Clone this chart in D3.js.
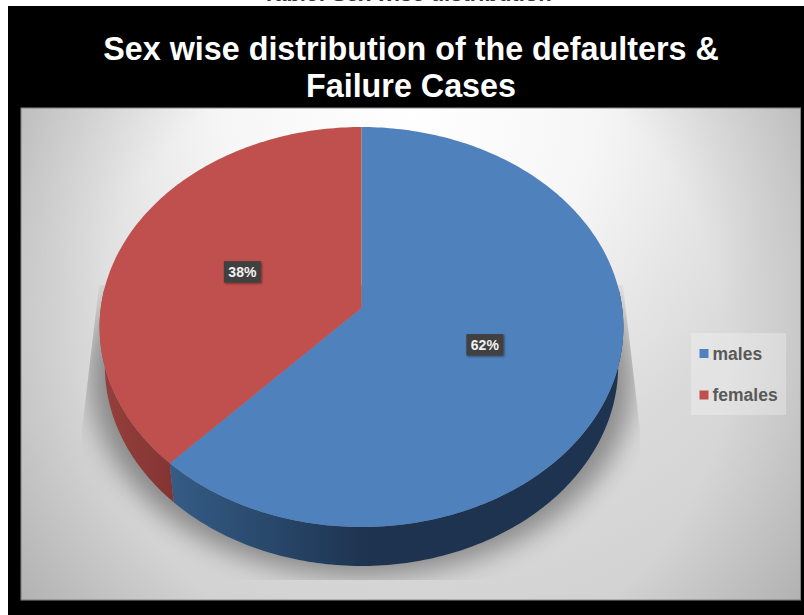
<!DOCTYPE html>
<html>
<head>
<meta charset="utf-8">
<script src="https://d3js.org/d3.v7.min.js"></script>
<style>
  html, body { margin: 0; padding: 0; background: #fff; overflow: hidden; }
  text { font-family: "Liberation Sans", Arial, sans-serif; }
</style>
</head>
<body>
<div id="chart"></div>
<script>
const categories = ["males", "females"];
const shares = [62, 38];
const sliceColors = ["#4f81bd", "#c0504d"];
const titleLines = ["Sex wise distribution of the defaulters &", "Failure Cases"];
const captionText = "Table: Sex wise distribution";

const width = 804, height = 615;

const svg = d3.select("#chart").append("svg")
  .attr("width", width)
  .attr("height", height);

const defs = svg.append("defs");

// panel background
const panelGrad = defs.append("radialGradient")
  .attr("id", "panelGrad")
  .attr("gradientUnits", "userSpaceOnUse")
  .attr("cx", 410).attr("cy", 108).attr("r", 620);
panelGrad.append("stop").attr("offset", "0%").attr("stop-color", "#ffffff");
panelGrad.append("stop").attr("offset", "30%").attr("stop-color", "#f6f6f6");
panelGrad.append("stop").attr("offset", "50%").attr("stop-color", "#e4e4e4");
panelGrad.append("stop").attr("offset", "62%").attr("stop-color", "#dadada");
panelGrad.append("stop").attr("offset", "80%").attr("stop-color", "#d4d4d4");
panelGrad.append("stop").attr("offset", "100%").attr("stop-color", "#cccccc");

// darker corners on top of it
const cornerGrad = defs.append("radialGradient")
  .attr("id", "cornerGrad")
  .attr("gradientUnits", "userSpaceOnUse")
  .attr("cx", 410).attr("cy", 354).attr("r", 465);
cornerGrad.append("stop").attr("offset", "68%").attr("stop-color", "#000").attr("stop-opacity", 0);
cornerGrad.append("stop").attr("offset", "100%").attr("stop-color", "#000").attr("stop-opacity", 0.13);

// edge of the pie, dark towards the bottom right
const sideBlue = defs.append("linearGradient")
  .attr("id", "sideBlue")
  .attr("gradientUnits", "userSpaceOnUse")
  .attr("x1", 172).attr("x2", 370).attr("y1", 0).attr("y2", 0);
sideBlue.append("stop").attr("offset", "0%").attr("stop-color", "#345c85");
sideBlue.append("stop").attr("offset", "100%").attr("stop-color", "#1d334f");

const sideRed = defs.append("linearGradient")
  .attr("id", "sideRed")
  .attr("gradientUnits", "userSpaceOnUse")
  .attr("x1", 100).attr("x2", 178).attr("y1", 0).attr("y2", 0);
sideRed.append("stop").attr("offset", "0%").attr("stop-color", "#95403d");
sideRed.append("stop").attr("offset", "100%").attr("stop-color", "#823432");

defs.append("filter").attr("id", "shadowBlur")
  .attr("x", "-20%").attr("y", "-20%").attr("width", "140%").attr("height", "140%")
  .append("feGaussianBlur").attr("stdDeviation", 13);

const labelShadow = defs.append("filter").attr("id", "labelShadow")
  .attr("x", "-30%").attr("y", "-30%").attr("width", "160%").attr("height", "160%");
labelShadow.append("feDropShadow")
  .attr("dx", 1).attr("dy", 1).attr("stdDeviation", 1)
  .attr("flood-color", "#000").attr("flood-opacity", 0.45);

// the shadow has hard slanted sides and a hard bottom
defs.append("clipPath").attr("id", "shadowClip")
  .append("path")
  .attr("d", "M99,285L82,430L82,580L640,580L640,430L623,285Z");

// black frame
svg.append("rect")
  .attr("x", 8).attr("y", 6)
  .attr("width", width - 8).attr("height", height - 6)
  .attr("fill", "#000");

// caption cut off by the top of the picture
svg.append("text")
  .attr("x", 407).attr("y", 1)
  .attr("text-anchor", "middle")
  .attr("font-size", 22)
  .attr("font-weight", "bold")
  .attr("fill", "#333")
  .text(captionText);

svg.selectAll(".title")
  .data(titleLines)
  .join("text")
  .attr("class", "title")
  .attr("x", 411)
  .attr("y", (d, i) => 60 + i * 37)
  .attr("text-anchor", "middle")
  .attr("font-size", 32.3)
  .attr("font-weight", "bold")
  .attr("fill", "#fff")
  .text(d => d);

svg.append("rect")
  .attr("x", 21).attr("y", 108)
  .attr("width", 779.5).attr("height", 492)
  .attr("fill", "url(#panelGrad)")
  .attr("stroke", "#8a8a8a")
  .attr("stroke-width", 1);

svg.append("rect")
  .attr("x", 21).attr("y", 108)
  .attr("width", 779.5).attr("height", 492)
  .attr("fill", "url(#cornerGrad)");

// Tilted disc: unit circle to screen, apex of the slices sits above the ellipse middle
const tilt = -0.095;
const yNum = d3.scaleLinear().domain([0, 1]).range([308, 308 + 168.9]);
const project = (angle, r = 1) => {
  const u = r * Math.sin(angle), v = -r * Math.cos(angle);
  const w = 1 + tilt * v;
  return [361.5 + 260.7 * u / w, yNum(v) / w];
};

const depth = 39;
const lowerShrink = 0.98;
const pie = d3.pie().sort(null).value(d => d);
const slices = pie(shares);
const line = d3.line();

const arcPoints = (a0, a1) => {
  const n = Math.max(2, Math.ceil((a1 - a0) * 60));
  return d3.range(n + 1).map(i => project(a0 + (a1 - a0) * i / n));
};

// shadow under the disc, a little wider than the disc
svg.append("g")
  .attr("clip-path", "url(#shadowClip)")
  .append("path")
  .attr("d", line(arcPoints(0, 2 * Math.PI).map(p => [361.5 + (p[0] - 361.5) * 1.04, p[1]])) + "Z")
  .attr("transform", "translate(0," + (depth + 10) + ")")
  .attr("fill", "#000")
  .attr("opacity", 0.36)
  .attr("filter", "url(#shadowBlur)");

// side walls, only the part facing the viewer
const sideRange = [Math.PI / 2 - 0.1, 3 * Math.PI / 2 + 0.1];
slices.forEach((s, i) => {
  const a0 = Math.max(s.startAngle, sideRange[0]);
  const a1 = Math.min(s.endAngle, sideRange[1]);
  if (a1 <= a0) return;
  const edge = arcPoints(a0, a1);
  const lower = edge
    .map(p => [361.5 + (p[0] - 361.5) * lowerShrink, p[1] + depth])
    .reverse();
  svg.append("path")
    .attr("d", line(edge.concat(lower)) + "Z")
    .attr("fill", i === 0 ? "url(#sideBlue)" : "url(#sideRed)");
});

// top of the disc
svg.selectAll(".slice")
  .data(slices)
  .join("path")
  .attr("class", "slice")
  .attr("d", d => line([project(0, 0)].concat(arcPoints(d.startAngle, d.endAngle))) + "Z")
  .attr("fill", (d, i) => sliceColors[i]);

// value labels
const labels = svg.selectAll(".value")
  .data(slices)
  .join("g")
  .attr("class", "value")
  .attr("transform", d => {
    const p = project((d.startAngle + d.endAngle) / 2, 0.5);
    return "translate(" + p[0] + "," + p[1] + ")";
  });

labels.append("rect")
  .attr("x", -18.5).attr("y", -11)
  .attr("width", 37).attr("height", 21.5)
  .attr("fill", "#404040")
  .attr("filter", "url(#labelShadow)");

labels.append("text")
  .attr("y", 5)
  .attr("text-anchor", "middle")
  .attr("font-size", 14)
  .attr("font-weight", "bold")
  .attr("fill", "#f2f2f2")
  .text(d => d.data + "%");

// legend
svg.append("rect")
  .attr("x", 691).attr("y", 333)
  .attr("width", 95).attr("height", 82)
  .attr("fill", "#ffffff")
  .attr("opacity", 0.28);

const legendY = d3.scalePoint().domain(categories).range([353.5, 395]);

const legend = svg.selectAll(".legend")
  .data(categories)
  .join("g")
  .attr("class", "legend")
  .attr("transform", d => "translate(699.5," + legendY(d) + ")");

legend.append("rect")
  .attr("x", 0).attr("y", -4.5)
  .attr("width", 9).attr("height", 9)
  .attr("fill", (d, i) => sliceColors[i]);

legend.append("text")
  .attr("x", 13).attr("y", 6)
  .attr("font-size", 17.5)
  .attr("font-weight", "bold")
  .attr("fill", "#595959")
  .text(d => d);
</script>
</body>
</html>
